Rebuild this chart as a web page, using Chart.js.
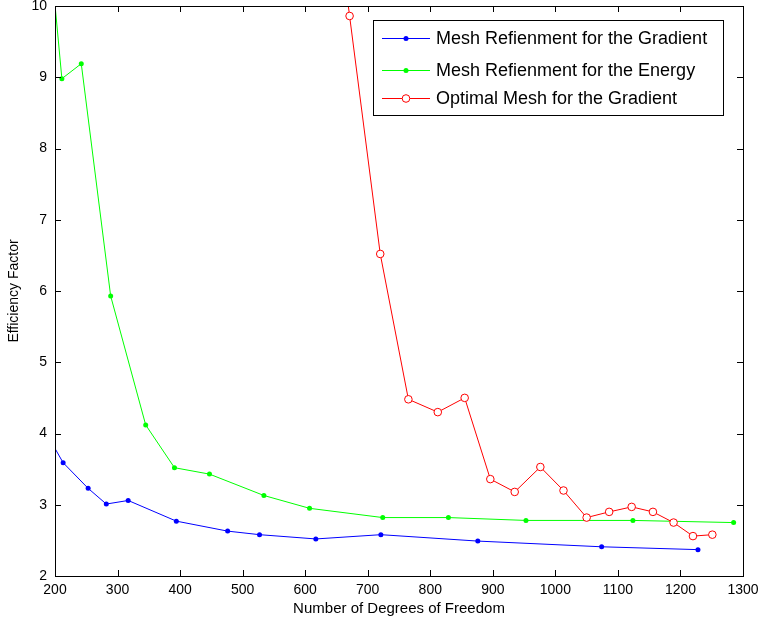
<!DOCTYPE html>
<html>
<head>
<meta charset="utf-8">
<script src="https://cdn.jsdelivr.net/npm/chart.js@4.4.1/dist/chart.umd.min.js"></script>
<style>
  html, body { margin: 0; padding: 0; background: #fff; }
  #wrap { width: 762px; height: 621px; }
</style>
</head>
<body>
<div id="wrap"><canvas id="chart"></canvas></div>
<script>
// values (first points lie outside the axes and get clipped)
const gradX = [185, 213, 253, 282, 317, 394, 476, 527, 617, 721, 876, 1074, 1228];
const gradY = [4.02, 3.59, 3.23, 3.01, 3.06, 2.77, 2.63, 2.58, 2.52, 2.58, 2.49, 2.41, 2.37];

const energyX = [197, 211, 242, 289, 345, 391, 447, 534, 607, 724, 829, 953, 1124, 1285];
const energyY = [10.3, 8.98, 9.19, 5.93, 4.12, 3.52, 3.43, 3.13, 2.95, 2.82, 2.82, 2.78, 2.78, 2.75];

const optX = [640, 671, 720, 765, 812, 855, 896, 935, 976, 1013, 1050, 1086, 1122, 1156, 1189, 1220, 1251];
const optY = [12.0, 9.86, 6.52, 4.48, 4.30, 4.50, 3.36, 3.18, 3.53, 3.20, 2.82, 2.90, 2.97, 2.90, 2.75, 2.56, 2.58];

const xTicks = [200, 300, 400, 500, 600, 700, 800, 900, 1000, 1100, 1200, 1300];
const yTicks = [2, 3, 4, 5, 6, 7, 8, 9, 10];

const labels = ['Mesh Refienment for the Gradient', 'Mesh Refienment for the Energy', 'Optimal Mesh for the Gradient'];

function toPoints(xs, ys) {
    return xs.map((x, i) => ({x: x, y: ys[i]}));
}

const FONT = 'Liberation Sans, Arial, Helvetica, sans-serif';

// box + inward ticks on all four sides, like matlab
const framePlugin = {
    id: 'frame',
    afterDatasetsDraw(chart) {
        const ctx = chart.ctx;
        const a = chart.chartArea;
        const xs = chart.scales.x, ys = chart.scales.y;
        const tl = 6;
        ctx.save();
        ctx.strokeStyle = '#000';
        ctx.lineWidth = 1;
        ctx.beginPath();
        xTicks.forEach(v => {
            const px = Math.round(xs.getPixelForValue(v)) + 0.5;
            ctx.moveTo(px, a.bottom); ctx.lineTo(px, a.bottom - tl);
            ctx.moveTo(px, a.top); ctx.lineTo(px, a.top + tl);
        });
        yTicks.forEach(v => {
            const py = Math.round(ys.getPixelForValue(v)) + 0.5;
            ctx.moveTo(a.left, py); ctx.lineTo(a.left + tl, py);
            ctx.moveTo(a.right, py); ctx.lineTo(a.right - tl, py);
        });
        ctx.stroke();
        ctx.strokeRect(Math.round(a.left) + 0.5, Math.round(a.top) + 0.5,
            Math.round(a.right - a.left), Math.round(a.bottom - a.top));
        ctx.restore();
    },
    afterDraw(chart) {
        // legend box in the upper right corner
        const ctx = chart.ctx;
        const bx = 373.5, by = 20.5, bw = 350, bh = 95;
        const rows = [38, 70, 98];
        ctx.save();
        ctx.fillStyle = '#fff';
        ctx.fillRect(bx, by, bw, bh);
        ctx.strokeStyle = '#000';
        ctx.lineWidth = 1;
        ctx.strokeRect(bx, by, bw, bh);
        chart.data.datasets.forEach((ds, i) => {
            const y = rows[i];
            ctx.strokeStyle = ds.borderColor;
            ctx.lineWidth = 1;
            ctx.beginPath();
            ctx.moveTo(382, y + 0.5); ctx.lineTo(430, y + 0.5);
            ctx.stroke();
            ctx.beginPath();
            ctx.arc(406, y + 0.5, ds.pointRadius, 0, Math.PI * 2);
            if (ds.pointBackgroundColor !== '#fff') {
                ctx.fillStyle = ds.pointBackgroundColor;
                ctx.fill();
            } else {
                ctx.fillStyle = '#fff';
                ctx.fill();
                ctx.stroke();
            }
            ctx.fillStyle = '#000';
            ctx.font = '18px ' + FONT;
            ctx.textBaseline = 'middle';
            ctx.textAlign = 'left';
            ctx.fillText(ds.label, 436, y + 1);
        });
        ctx.restore();
    }
};

const data = {
    datasets: [
        {
            label: labels[0],
            data: toPoints(gradX, gradY),
            borderColor: '#0000ff',
            backgroundColor: '#0000ff',
            pointBackgroundColor: '#0000ff',
            pointBorderWidth: 0,
            pointRadius: 2.5,
            borderWidth: 1,
            order: 3,
            clip: 0
        },
        {
            label: labels[1],
            data: toPoints(energyX, energyY),
            borderColor: '#00ff00',
            backgroundColor: '#00ff00',
            pointBackgroundColor: '#00ff00',
            pointBorderWidth: 0,
            pointRadius: 2.5,
            borderWidth: 1,
            order: 2,
            clip: 0
        },
        {
            label: labels[2],
            data: toPoints(optX, optY),
            borderColor: '#ff0000',
            backgroundColor: '#ff0000',
            pointBackgroundColor: '#fff',
            pointBorderColor: '#ff0000',
            pointBorderWidth: 1,
            pointRadius: 3.8,
            borderWidth: 1,
            order: 1,
            clip: 0
        }
    ]
};

const config = {
    type: 'line',
    data: data,
    options: {
        responsive: true,
        maintainAspectRatio: false,
        animation: false,
        layout: { padding: { top: 6, right: 19, left: 0, bottom: 0 } },
        plugins: {
            legend: { display: false },
            tooltip: { enabled: false }
        },
        elements: { line: { tension: 0 } },
        scales: {
            x: {
                type: 'linear',
                min: 200,
                max: 1300,
                afterBuildTicks: s => { s.ticks = xTicks.map(v => ({value: v})); },
                afterFit: s => { s.height = 45; s.paddingLeft = 0; s.paddingRight = 0; },
                grid: { display: false, drawTicks: false },
                border: { display: false },
                ticks: { color: '#000', font: { family: FONT, size: 14 }, padding: 6, maxRotation: 0,
                         callback: v => String(v) },
                title: { display: true, text: 'Number of Degrees of Freedom', color: '#000',
                         font: { family: FONT, size: 15 }, padding: { top: 0, bottom: 3 } }
            },
            y: {
                type: 'linear',
                min: 2,
                max: 10,
                afterBuildTicks: s => { s.ticks = yTicks.map(v => ({value: v})); },
                afterFit: s => { s.width = 55; s.paddingTop = 0; s.paddingBottom = 0; },
                grid: { display: false, drawTicks: false },
                border: { display: false },
                ticks: { color: '#000', font: { family: FONT, size: 14 }, padding: 8,
                         callback: v => String(v) },
                title: { display: true, text: 'Efficiency Factor', color: '#000',
                         font: { family: FONT, size: 14 }, padding: { top: 6, bottom: 0 } }
            }
        }
    },
    plugins: [framePlugin]
};

new Chart(document.querySelector('#chart'), config);
</script>
</body>
</html>
